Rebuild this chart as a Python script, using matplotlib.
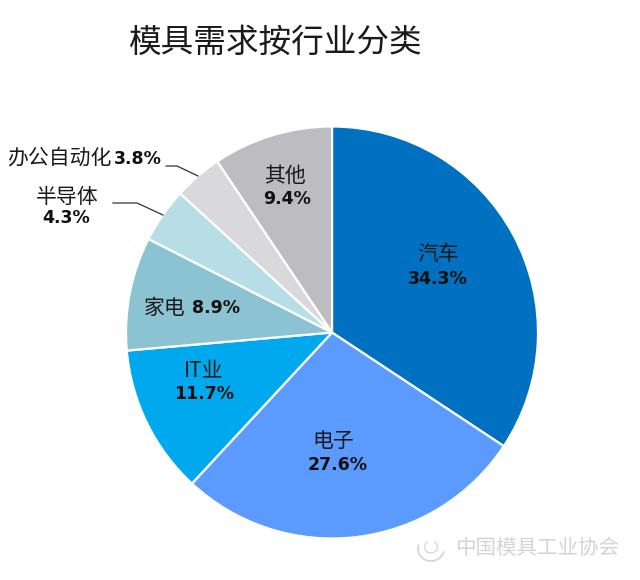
import matplotlib
matplotlib.use('Agg')
import matplotlib.pyplot as plt
from matplotlib.patches import Arc

plt.rcParams['font.family'] = ['Noto Sans CJK SC', 'DejaVu Sans']

# values, clockwise from 12 o'clock
names = ['汽车', '电子', 'IT业', '家电', '半导体', '办公自动化', '其他']
shares = [34.3, 27.6, 11.7, 8.9, 4.3, 3.8, 9.4]
COLORS = ['#0070c0', '#5b9bff', '#00a9ee', '#8cc3d3', '#b7dde6', '#d9d9dc', '#bdbdc1']

W, H = 640, 580
fig = plt.figure(figsize=(W/100, H/100), dpi=100, facecolor='white')

# pie centre about (332, 332), radius about 206 px
cx, cy, r = 332, 332.5, 206
ax = fig.add_axes([(cx-r)/W, 1-(cy+r)/H, 2*r/W, 2*r/H])
ax.pie(shares, colors=COLORS, startangle=90, counterclock=False, radius=1,
	wedgeprops=dict(edgecolor='white', linewidth=1.6))
ax.set_xlim(-1, 1)
ax.set_ylim(-1, 1)
ax.set_axis_off()


def name(x, y, s, size=15):
	# the CJK font sits a little high, hence the +2
	fig.text(x/W, 1-(y+2)/H, s, fontsize=size, ha='center', va='center', color='#1a1a1a')


def pct(x, y, v):
	fig.text(x/W, 1-y/H, '%.1f%%' % v, fontsize=12.5, ha='center', va='center', color='#111111',
		family='DejaVu Sans', weight='bold')


name(276, 41, '模具需求按行业分类', size=23.5)

name(438, 252, names[0])
pct(438, 279, shares[0])
name(333, 439, names[1])
pct(338, 465, shares[1])
name(204, 368, names[2])
pct(204, 394, shares[2])
name(165, 306, names[3])
pct(216, 308, shares[3])
name(67, 195, names[4])
pct(66, 218, shares[4])
name(59, 156, names[5])
pct(138, 159, shares[5])
name(285, 174, names[6])
pct(287, 199, shares[6])

# leader lines, figure pixels
for xs, ys in [([113, 137, 163], [203, 203, 215]), ([166, 177, 198], [166, 166, 176])]:
	fig.add_artist(plt.Line2D([x/W for x in xs], [1-y/H for y in ys], color='#333333', lw=0.9))

# watermark
fig.text(537/W, 1-548/H, '中国模具工业协会', fontsize=14.8, color='#d4d4d6', ha='center', va='center')
wm = fig.add_axes([0, 0, 1, 1], facecolor='none')
wm.set_xlim(0, W)
wm.set_ylim(H, 0)
wm.set_axis_off()
wm.add_patch(Arc((431, 549), 26, 24, theta1=10, theta2=200, color='#d4d4d6', lw=1.2))
wm.add_patch(Arc((431, 547), 13, 12, theta1=-60, theta2=240, color='#d8d8da', lw=1))

fig.savefig('out.png', dpi=100)
